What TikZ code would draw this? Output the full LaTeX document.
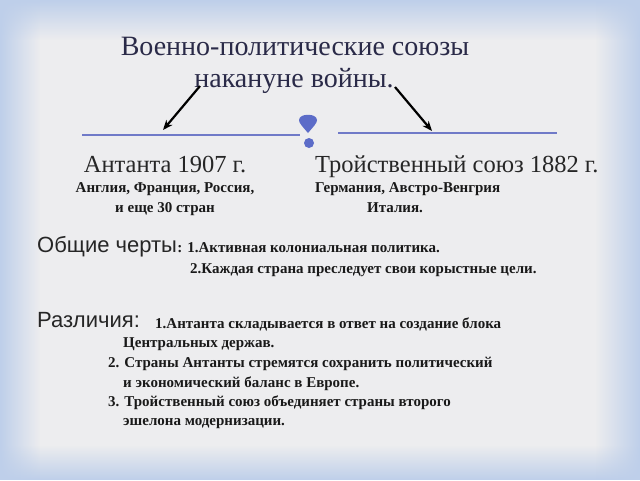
\documentclass[tikz,border=0pt]{standalone}
\usepackage{fontspec}
\setmainfont{Liberation Serif}
\newfontfamily\headsans{Liberation Sans}
\usetikzlibrary{arrows.meta, fadings}
\definecolor{bgbase}{RGB}{237,237,239}
\definecolor{bgblue}{RGB}{190,207,234}
\definecolor{titlecol}{RGB}{42,42,72}
\definecolor{markblue}{RGB}{92,108,200}
\definecolor{linecol}{RGB}{112,122,200}
\begin{document}
\begin{tikzpicture}[x=1pt, y=-1pt,
		title/.style={text=titlecol, font=\fontsize{28}{30}\selectfont, inner sep=0pt},
		union/.style={text=black!85, font=\fontsize{24.5}{26}\selectfont, inner sep=0pt},
		head/.style={text=black!85, font=\headsans\fontsize{22}{24}\selectfont, inner sep=0pt},
		small/.style={text=black!90, font=\bfseries\fontsize{15}{17}\selectfont, inner sep=0pt},
		pointer/.style={-{Stealth[length=10pt, width=8pt]}, line width=2.2pt, black},
		sepline/.style={linecol, line width=1.3pt}
	]
		
		\fill[bgbase] (0,0) rectangle (640,480);
		\fill[bgblue, path fading=south] (0,0) rectangle (640,40);
		\fill[bgblue, path fading=north] (0,445) rectangle (640,480);
		\fill[bgblue, path fading=east] (0,0) rectangle (40,480);
		\fill[bgblue, path fading=west] (595,0) rectangle (640,480);
		
		\node[title, anchor=base] (t1) at (295,55){Военно-политические союзы};
		\node[title, anchor=base] (t2) at (294,87){накануне войны.};
		
		\coordinate (arrL) at (200,86);
		\coordinate (arrR) at (395,87);
		\coordinate (tipL) at (163,130);
		\coordinate (tipR) at (432,131);
		\draw[pointer] (arrL) -- (tipL);
		\draw[pointer] (arrR) -- (tipR);
		
		\coordinate (lineL1) at (82,135);
		\coordinate (lineL2) at (300,135);
		\coordinate (lineR1) at (338,133);
		\coordinate (lineR2) at (557,133);
		\draw[sepline] (lineL1) -- (lineL2);
		\draw[sepline] (lineR1) -- (lineR2);
		
		\fill[markblue] (308,133) .. controls (302,126) and (299,123) .. (299,120)
			.. controls (299,113) and (317,113) .. (317,120)
			.. controls (317,123) and (314,126) .. (308,133) -- cycle;
		\fill[markblue] (309,143) circle (5);
		
		\node[union, anchor=base] (ant) at (165,172){Антанта 1907 г.};
		\node[small, anchor=base] (ant1) at (165,192){Англия, Франция, Россия,};
		\node[small, anchor=base] (ant2) at (165,212){и еще 30 стран};
		
		\node[union, anchor=base west] (tri) at (315,172){Тройственный союз 1882 г.};
		\node[small, anchor=base west] (tri1) at (315,192){Германия, Австро-Венгрия};
		\node[small, anchor=base west] (tri2) at (367,212){Италия.};
		
		\node[head, anchor=base west] (common) at (37,252){Общие черты};
		\node[small, anchor=base west] (c1) at (common.base east){: 1.Активная колониальная политика.};
		\node[small, anchor=base west] (c2) at (190,273){2.Каждая страна преследует свои корыстные цели.};
		
		\node[head, anchor=base west] (diff) at (37,327){Различия:};
		\node[small, anchor=base west] (d1) at (155,328){1.Антанта складывается в ответ на создание блока};
		\node[small, anchor=base west] (d1b) at (123,347){Центральных держав.};
		\node[small, anchor=base west] (d2) at (108,367){2. Страны Антанты стремятся сохранить политический};
		\node[small, anchor=base west] (d2b) at (123,387){и экономический баланс в Европе.};
		\node[small, anchor=base west] (d3) at (108,406){3. Тройственный союз объединяет страны второго};
		\node[small, anchor=base west] (d3b) at (123,425){эшелона модернизации.};
		
	\end{tikzpicture}
\end{document}
